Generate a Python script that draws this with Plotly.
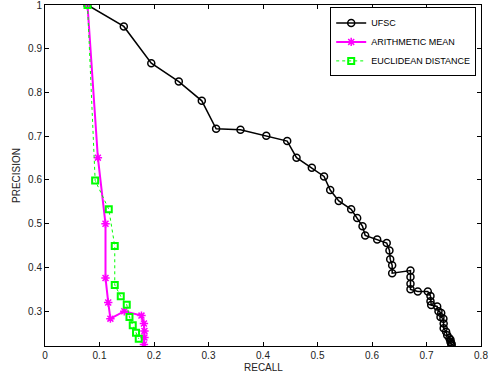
import plotly.graph_objects as go

ufsc_recall = [0.078, 0.1446, 0.195, 0.2455, 0.2877, 0.314, 0.3587, 0.406, 0.4444, 0.4615,
               0.4896, 0.512, 0.5233, 0.539, 0.5618, 0.5728, 0.5826, 0.5875, 0.6095, 0.627,
               0.632, 0.6334, 0.637, 0.637, 0.6706, 0.6706, 0.6706, 0.6706, 0.684, 0.7024,
               0.7073, 0.7073, 0.7086, 0.7196, 0.722, 0.727, 0.7257, 0.731, 0.7315, 0.7315,
               0.736, 0.738, 0.742, 0.744, 0.744, 0.745, 0.746, 0.746]
ufsc_precision = [1.0, 0.951, 0.867, 0.825, 0.781, 0.717, 0.715, 0.701, 0.689, 0.651,
                  0.628, 0.608, 0.577, 0.552, 0.533, 0.513, 0.494, 0.473, 0.464, 0.456,
                  0.439, 0.419, 0.405, 0.387, 0.393, 0.378, 0.363, 0.350, 0.345, 0.345,
                  0.335, 0.323, 0.314, 0.311, 0.300, 0.296, 0.287, 0.283, 0.272, 0.261,
                  0.253, 0.245, 0.238, 0.230, 0.235, 0.228, 0.225, 0.222]

am_recall = [0.078, 0.097, 0.111, 0.111, 0.116, 0.120, 0.1455, 0.177, 0.1815, 0.1825, 0.1825, 0.1815]
am_precision = [1.0, 0.651, 0.500, 0.376, 0.320, 0.283, 0.300, 0.290, 0.272, 0.255, 0.240, 0.224]

ed_recall = [0.078, 0.092, 0.117, 0.128, 0.128, 0.139, 0.150, 0.155, 0.161, 0.167, 0.172]
ed_precision = [1.0, 0.599, 0.533, 0.449, 0.360, 0.334, 0.315, 0.287, 0.268, 0.251, 0.237]

x_ticks = [0, 0.1, 0.2, 0.3, 0.4, 0.5, 0.6, 0.7, 0.8]
y_ticks = [0.3, 0.4, 0.5, 0.6, 0.7, 0.8, 0.9, 1]

FONT = "Liberation Sans, Arial, sans-serif"

fig = go.Figure()
fig.add_trace(go.Scatter(
    x=ufsc_recall, y=ufsc_precision, mode="lines+markers", name="UFSC",
    line=dict(color="black", width=1.5),
    marker=dict(symbol="circle-open", size=7, color="black", line=dict(width=1.5))))
fig.add_trace(go.Scatter(
    x=am_recall, y=am_precision, mode="lines+markers", name="ARITHMETIC MEAN",
    line=dict(color="#FF00FF", width=2),
    marker=dict(symbol="asterisk-open", size=7, color="#FF00FF", line=dict(width=1.5, color="#FF00FF"))))
fig.add_trace(go.Scatter(
    x=ed_recall, y=ed_precision, mode="lines+markers", name="EUCLIDEAN DISTANCE",
    line=dict(color="#00FF00", width=1, dash="dot"),
    marker=dict(symbol="square-open", size=6, color="#00FF00", line=dict(width=2, color="#00FF00"))))

axis_common = dict(showgrid=False, zeroline=False, showline=True, linecolor="black", linewidth=1,
                   mirror="ticks", ticks="inside", ticklen=4, tickcolor="black", automargin=False,
                   ticklabeloverflow="allow",
                   tickfont=dict(family=FONT, size=10, color="#222"))

fig.update_layout(
    width=488, height=377,
    margin=dict(l=45, r=7, t=5, b=31, autoexpand=False),
    paper_bgcolor="white", plot_bgcolor="white",
    font=dict(family=FONT, size=10, color="#222"),
    xaxis=dict(range=[0, 0.8], tickvals=x_ticks, ticktext=[f"{v:g}" for v in x_ticks],
               **axis_common),
    yaxis=dict(range=[0.2205, 1.0], tickvals=y_ticks, ticktext=[f"{v:g}" for v in y_ticks],
               **axis_common),
    legend=dict(x=0.989, y=0.993, xanchor="right", yanchor="top",
                bordercolor="black", borderwidth=1, bgcolor="white",
                font=dict(size=9, family=FONT, color="black"),
                tracegroupgap=0, itemwidth=30),
    showlegend=True,
    annotations=[
        dict(text="RECALL", xref="paper", yref="paper", x=0.5, y=0, yshift=-14,
             xanchor="center", yanchor="top", showarrow=False, font=dict(size=10, family=FONT, color="#222")),
        dict(text="PRECISION", xref="paper", yref="paper", x=0, y=0.5, xshift=-21,
             xanchor="right", yanchor="middle", textangle=-90, showarrow=False,
             font=dict(size=10, family=FONT, color="#222")),
    ],
)

fig.write_html("out.html", config={"displayModeBar": False},
               post_script="document.body.style.margin='0';document.body.style.overflow='hidden';")
